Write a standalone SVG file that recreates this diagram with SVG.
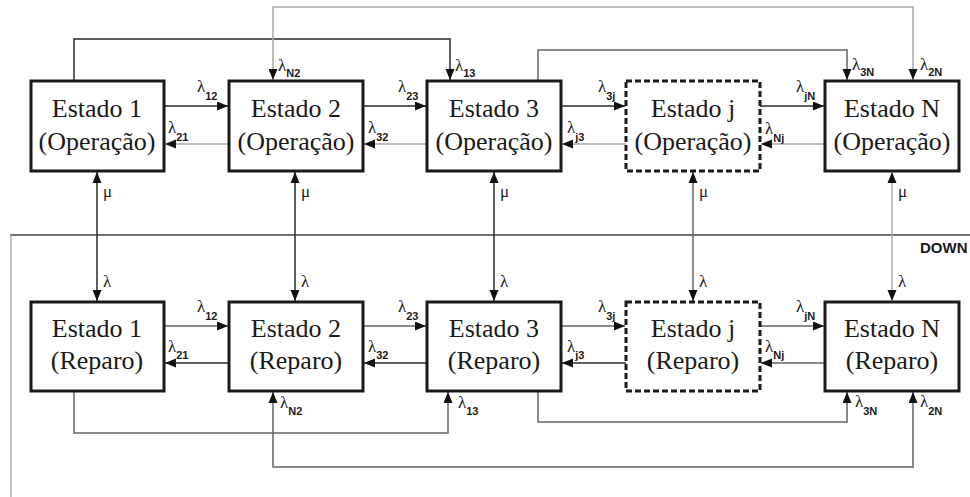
<svg xmlns="http://www.w3.org/2000/svg" width="970" height="497" viewBox="0 0 970 497">
<style>
.box{fill:#ffffff;stroke:#1a1a1a;stroke-width:3}
.dash{fill:#ffffff;stroke:#1a1a1a;stroke-width:3;stroke-dasharray:6 3}
.t{font-family:'Liberation Serif','Times New Roman',serif;font-size:26px;fill:#1a1a1a;text-anchor:middle}
.lam{font-family:'Liberation Serif','Times New Roman',serif;font-size:17px;fill:#1a1a1a}
.sub{font-family:'Liberation Sans',Arial,sans-serif;font-size:11px;font-weight:bold}
.dk{stroke:#2a2a2a;stroke-width:1.5;fill:none}
.md{stroke:#666;stroke-width:1.5;fill:none}
.lt{stroke:#a8a8a8;stroke-width:1.5;fill:none}
.ah{marker-end:url(#a)}
.ab{marker-start:url(#s);marker-end:url(#a)}
</style>
<defs>
<marker id="a" markerUnits="userSpaceOnUse" markerWidth="12" markerHeight="10" refX="11" refY="4.5" orient="auto"><path d="M0,0 L11,4.5 L0,9 z" fill="#111"/></marker>
<marker id="s" markerUnits="userSpaceOnUse" markerWidth="12" markerHeight="10" refX="0" refY="4.5" orient="auto"><path d="M11,0 L0,4.5 L11,9 z" fill="#111"/></marker>
</defs>
<rect width="970" height="497" fill="#ffffff"/>

<g id="background">
<line x1="10" y1="235" x2="970" y2="235" stroke="#444" stroke-width="1.5"/>
<line x1="11" y1="235" x2="11" y2="497" stroke="#aaa" stroke-width="1.5"/>
<text x="920" y="253" font-family="Liberation Sans, Arial, sans-serif" font-size="15" font-weight="bold" fill="#1a1a1a">DOWN</text>
</g>

<g id="connectors">
<line class="dk ah" x1="164" y1="106" x2="228" y2="106"/>
<line class="dk ah" x1="363" y1="106" x2="426" y2="106"/>
<line class="dk ah" x1="561" y1="106" x2="625" y2="106"/>
<line class="dk ah" x1="760" y1="106" x2="824" y2="106"/>
<line class="lt ah" x1="229" y1="144" x2="165" y2="144"/>
<line class="lt ah" x1="427" y1="144" x2="364" y2="144"/>
<line class="lt ah" x1="626" y1="144" x2="562" y2="144"/>
<line class="lt ah" x1="825" y1="144" x2="761" y2="144"/>
<line class="md ah" x1="164" y1="326" x2="228" y2="326"/>
<line class="md ah" x1="363" y1="326" x2="426" y2="326"/>
<line class="md ah" x1="561" y1="326" x2="625" y2="326"/>
<line class="md ah" x1="760" y1="326" x2="824" y2="326"/>
<line class="dk ah" x1="229" y1="363" x2="165" y2="363"/>
<line class="dk ah" x1="427" y1="363" x2="364" y2="363"/>
<line class="dk ah" x1="626" y1="363" x2="562" y2="363"/>
<line class="md ah" x1="825" y1="363" x2="761" y2="363"/>
<polyline class="dk ah" points="74,81 74,39 450,39 450,80"/>
<polyline class="md ah" points="538,81 538,50 847,50 847,80"/>
<polyline class="lt ab" points="273,80 273,7 913,7 913,80"/>
<polyline class="md ah" points="74,391 74,433 448,433 448,392"/>
<polyline class="md ah" points="538,391 538,422 847,422 847,392"/>
<polyline class="md ab" points="273,392 273,467 913,467 913,392"/>
<line class="dk ab" x1="97" y1="172" x2="97" y2="301"/>
<line class="dk ab" x1="295" y1="172" x2="295" y2="301"/>
<line class="dk ab" x1="494" y1="172" x2="494" y2="301"/>
<line class="md ab" x1="693" y1="172" x2="693" y2="301"/>
<line class="lt ab" x1="892" y1="172" x2="892" y2="301"/>
</g>

<g id="labels">
<text class="lam" x="197" y="92">λ<tspan class="sub" dy="8">12</tspan></text>
<text class="lam" x="168" y="133">λ<tspan class="sub" dy="8">21</tspan></text>
<text class="lam" x="398" y="92">λ<tspan class="sub" dy="8">23</tspan></text>
<text class="lam" x="368" y="133">λ<tspan class="sub" dy="8">32</tspan></text>
<text class="lam" x="598" y="92">λ<tspan class="sub" dy="8">3j</tspan></text>
<text class="lam" x="567" y="133">λ<tspan class="sub" dy="8">j3</tspan></text>
<text class="lam" x="796" y="92">λ<tspan class="sub" dy="8">jN</tspan></text>
<text class="lam" x="765" y="134">λ<tspan class="sub" dy="8">Nj</tspan></text>
<text class="lam" x="278" y="71">λ<tspan class="sub" dy="6">N2</tspan></text>
<text class="lam" x="455" y="71">λ<tspan class="sub" dy="6">13</tspan></text>
<text class="lam" x="852" y="70">λ<tspan class="sub" dy="6">3N</tspan></text>
<text class="lam" x="920" y="70">λ<tspan class="sub" dy="6">2N</tspan></text>

<text class="lam" x="197" y="312">λ<tspan class="sub" dy="8">12</tspan></text>
<text class="lam" x="168" y="352">λ<tspan class="sub" dy="7">21</tspan></text>
<text class="lam" x="398" y="312">λ<tspan class="sub" dy="8">23</tspan></text>
<text class="lam" x="368" y="352">λ<tspan class="sub" dy="7">32</tspan></text>
<text class="lam" x="598" y="312">λ<tspan class="sub" dy="8">3j</tspan></text>
<text class="lam" x="567" y="352">λ<tspan class="sub" dy="7">j3</tspan></text>
<text class="lam" x="796" y="312">λ<tspan class="sub" dy="8">jN</tspan></text>
<text class="lam" x="765" y="352">λ<tspan class="sub" dy="7">Nj</tspan></text>
<text class="lam" x="280" y="408">λ<tspan class="sub" dy="7">N2</tspan></text>
<text class="lam" x="458" y="408">λ<tspan class="sub" dy="7">13</tspan></text>
<text class="lam" x="855" y="407">λ<tspan class="sub" dy="8">3N</tspan></text>
<text class="lam" x="920" y="407">λ<tspan class="sub" dy="8">2N</tspan></text>

<text class="lam" x="103" y="197">μ</text>
<text class="lam" x="301" y="197">μ</text>
<text class="lam" x="500" y="197">μ</text>
<text class="lam" x="699" y="197">μ</text>
<text class="lam" x="898" y="197">μ</text>
<text class="lam" x="103" y="287">λ</text>
<text class="lam" x="301" y="287">λ</text>
<text class="lam" x="500" y="287">λ</text>
<text class="lam" x="699" y="287">λ</text>
<text class="lam" x="898" y="287">λ</text>
</g>

<g id="op1"><rect class="box" x="31" y="81" width="133" height="90"/><text class="t" x="97" y="117">Estado 1</text><text class="t" x="97" y="150">(Operação)</text></g>
<g id="op2"><rect class="box" x="229" y="81" width="134" height="90"/><text class="t" x="296" y="117">Estado 2</text><text class="t" x="296" y="150">(Operação)</text></g>
<g id="op3"><rect class="box" x="427" y="81" width="134" height="90"/><text class="t" x="494" y="117">Estado 3</text><text class="t" x="494" y="150">(Operação)</text></g>
<g id="opj"><rect class="dash" x="626" y="81" width="134" height="90"/><text class="t" x="693" y="117">Estado j</text><text class="t" x="693" y="150">(Operação)</text></g>
<g id="opN"><rect class="box" x="825" y="81" width="134" height="90"/><text class="t" x="892" y="117">Estado N</text><text class="t" x="892" y="150">(Operação)</text></g>

<g id="rep1"><rect class="box" x="31" y="302" width="133" height="89"/><text class="t" x="97" y="337">Estado 1</text><text class="t" x="97" y="369">(Reparo)</text></g>
<g id="rep2"><rect class="box" x="229" y="302" width="134" height="89"/><text class="t" x="296" y="337">Estado 2</text><text class="t" x="296" y="369">(Reparo)</text></g>
<g id="rep3"><rect class="box" x="427" y="302" width="134" height="89"/><text class="t" x="494" y="337">Estado 3</text><text class="t" x="494" y="369">(Reparo)</text></g>
<g id="repj"><rect class="dash" x="626" y="302" width="134" height="89"/><text class="t" x="693" y="337">Estado j</text><text class="t" x="693" y="369">(Reparo)</text></g>
<g id="repN"><rect class="box" x="825" y="302" width="134" height="89"/><text class="t" x="892" y="337">Estado N</text><text class="t" x="892" y="369">(Reparo)</text></g>
</svg>
